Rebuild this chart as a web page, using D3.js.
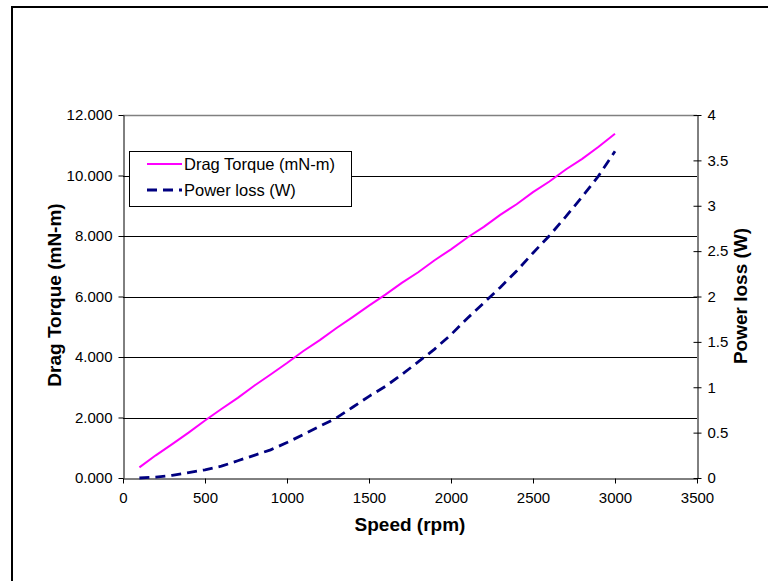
<!DOCTYPE html>
<html>
<head>
<meta charset="utf-8">
<script src="https://cdn.jsdelivr.net/npm/d3@7"></script>
<style>
  body { margin: 0; background: #fff; }
  svg { display: block; }
</style>
</head>
<body>
<svg id="chart" width="768" height="581"></svg>
<script>
// Chart data
var speed = [100, 200, 300, 400, 500, 600, 700, 800, 900, 1000,
             1100, 1200, 1300, 1400, 1500, 1600, 1700, 1800, 1900, 2000,
             2100, 2200, 2300, 2400, 2500, 2600, 2700, 2800, 2900, 3000];
var dragTorque = [0.35, 0.75, 1.12, 1.5, 1.9, 2.28, 2.65, 3.05, 3.42, 3.8,
                  4.2, 4.56, 4.95, 5.32, 5.7, 6.06, 6.45, 6.8, 7.2, 7.56,
                  7.95, 8.3, 8.7, 9.05, 9.45, 9.8, 10.2, 10.55, 10.95, 11.38];
var powerLoss = [0.0, 0.01, 0.03, 0.06, 0.09, 0.13, 0.19, 0.25, 0.31, 0.39,
                 0.48, 0.57, 0.66, 0.78, 0.9, 1.01, 1.14, 1.28, 1.42, 1.58,
                 1.76, 1.93, 2.1, 2.28, 2.48, 2.67, 2.88, 3.1, 3.33, 3.6];
var xTicks = [0, 500, 1000, 1500, 2000, 2500, 3000, 3500];
var yLeftTicks = [0, 2, 4, 6, 8, 10, 12];
var yRightTicks = [0, 0.5, 1, 1.5, 2, 2.5, 3, 3.5, 4];
var seriesNames = ["Drag Torque (mN-m)", "Power loss (W)"];

var svg = d3.select("#chart");
var font = "'Liberation Sans', Arial, sans-serif";

//Set some initial values
var plotLeft = 123, plotRight = 697, plotTop = 115, plotBottom = 478;

//Outer frame
svg.append("rect")
    .attr("x", 12).attr("y", 7)
    .attr("width", 800).attr("height", 620)
    .attr("fill", "none")
    .attr("stroke", "#000")
    .attr("stroke-width", 2);

//Scales
var x = d3.scaleLinear().domain([0, 3500]).range([plotLeft, plotRight]);
var yL = d3.scaleLinear().domain([0, 12]).range([plotBottom, plotTop]);
var yR = d3.scaleLinear().domain([0, 4]).range([plotBottom, plotTop]);

//Gridlines
svg.append("g")
    .selectAll("line")
    .data(yLeftTicks.slice(1, -1))
    .enter()
    .append("line")
    .attr("x1", plotLeft).attr("x2", plotRight)
    .attr("y1", function(d) { return Math.round(yL(d)) + 0.5; })
    .attr("y2", function(d) { return Math.round(yL(d)) + 0.5; })
    .attr("stroke", "#000")
    .attr("stroke-width", 1);

//Plot area top edge
svg.append("line")
    .attr("x1", plotLeft).attr("x2", plotRight)
    .attr("y1", plotTop + 0.5).attr("y2", plotTop + 0.5)
    .attr("stroke", "#808080")
    .attr("stroke-width", 1.5);

//X axis
var xAxis = svg.append("g")
    .attr("transform", "translate(0," + (plotBottom + 0.5) + ")")
    .call(d3.axisBottom(x).tickValues(xTicks).tickSize(5).tickSizeOuter(0).tickPadding(9).tickFormat(d3.format("d")));

//Left axis
var yAxisL = svg.append("g")
    .attr("transform", "translate(" + (plotLeft + 0.5) + ",0)")
    .call(d3.axisLeft(yL).tickValues(yLeftTicks).tickSize(5).tickSizeOuter(0).tickPadding(6).tickFormat(d3.format(".3f")));

//Right axis
var yAxisR = svg.append("g")
    .attr("transform", "translate(" + (plotRight + 0.5) + ",0)")
    .call(d3.axisRight(yR).tickValues(yRightTicks).tickSize(4).tickSizeOuter(0).tickPadding(6).tickFormat(function(d) { return String(d); }));
yAxisR.selectAll(".tick line").attr("x1", -4);

[xAxis, yAxisL, yAxisR].forEach(function(g) {
    g.selectAll("text")
        .style("font-family", font)
        .style("font-size", "15px")
        .attr("fill", "#000");
    g.selectAll("line, path").attr("stroke", "#000");
});

//Axis titles
svg.append("text")
    .attr("x", (plotLeft + plotRight) / 2)
    .attr("y", 531)
    .attr("text-anchor", "middle")
    .style("font-family", font)
    .style("font-size", "19px")
    .style("font-weight", "bold")
    .text("Speed (rpm)");

svg.append("text")
    .attr("transform", "translate(" + 61 + " ," + 295 + ") rotate(-90)")
    .attr("text-anchor", "middle")
    .style("font-family", font)
    .style("font-size", "19px")
    .style("font-weight", "bold")
    .text("Drag Torque (mN-m)");

svg.append("text")
    .attr("transform", "translate(" + 747 + " ," + 296 + ") rotate(-90)")
    .attr("text-anchor", "middle")
    .style("font-family", font)
    .style("font-size", "19px")
    .style("font-weight", "bold")
    .text("Power loss (W)");

//Lines
var torqueLine = d3.line()
    .x(function(d, i) { return x(speed[i]); })
    .y(function(d) { return yL(d); });
var powerLine = d3.line()
    .x(function(d, i) { return x(speed[i]); })
    .y(function(d) { return yR(d); });

svg.append("path")
    .attr("d", powerLine(powerLoss))
    .attr("fill", "none")
    .attr("stroke", "#000080")
    .attr("stroke-width", 2.8)
    .attr("stroke-dasharray", "10,6");

svg.append("path")
    .attr("d", torqueLine(dragTorque))
    .attr("fill", "none")
    .attr("stroke", "#ff00ff")
    .attr("stroke-width", 2);

//Legend
var legend = svg.append("g");
legend.append("rect")
    .attr("x", 129.5).attr("y", 151.5)
    .attr("width", 222).attr("height", 55)
    .attr("fill", "#fff")
    .attr("stroke", "#000")
    .attr("stroke-width", 1);

var legendStyles = [
    { color: "#ff00ff", dash: null, width: 2 },
    { color: "#000080", dash: "10,6", width: 2.8 }
];
seriesNames.forEach(function(name, i) {
    var ly = 164 + i * 26;
    legend.append("line")
        .attr("x1", 147).attr("x2", 182)
        .attr("y1", ly).attr("y2", ly)
        .attr("stroke", legendStyles[i].color)
        .attr("stroke-width", legendStyles[i].width)
        .attr("stroke-dasharray", legendStyles[i].dash);
    legend.append("text")
        .attr("x", 184)
        .attr("y", ly + 6)
        .style("font-family", font)
        .style("font-size", "16.5px")
        .text(name);
});
</script>
</body>
</html>
